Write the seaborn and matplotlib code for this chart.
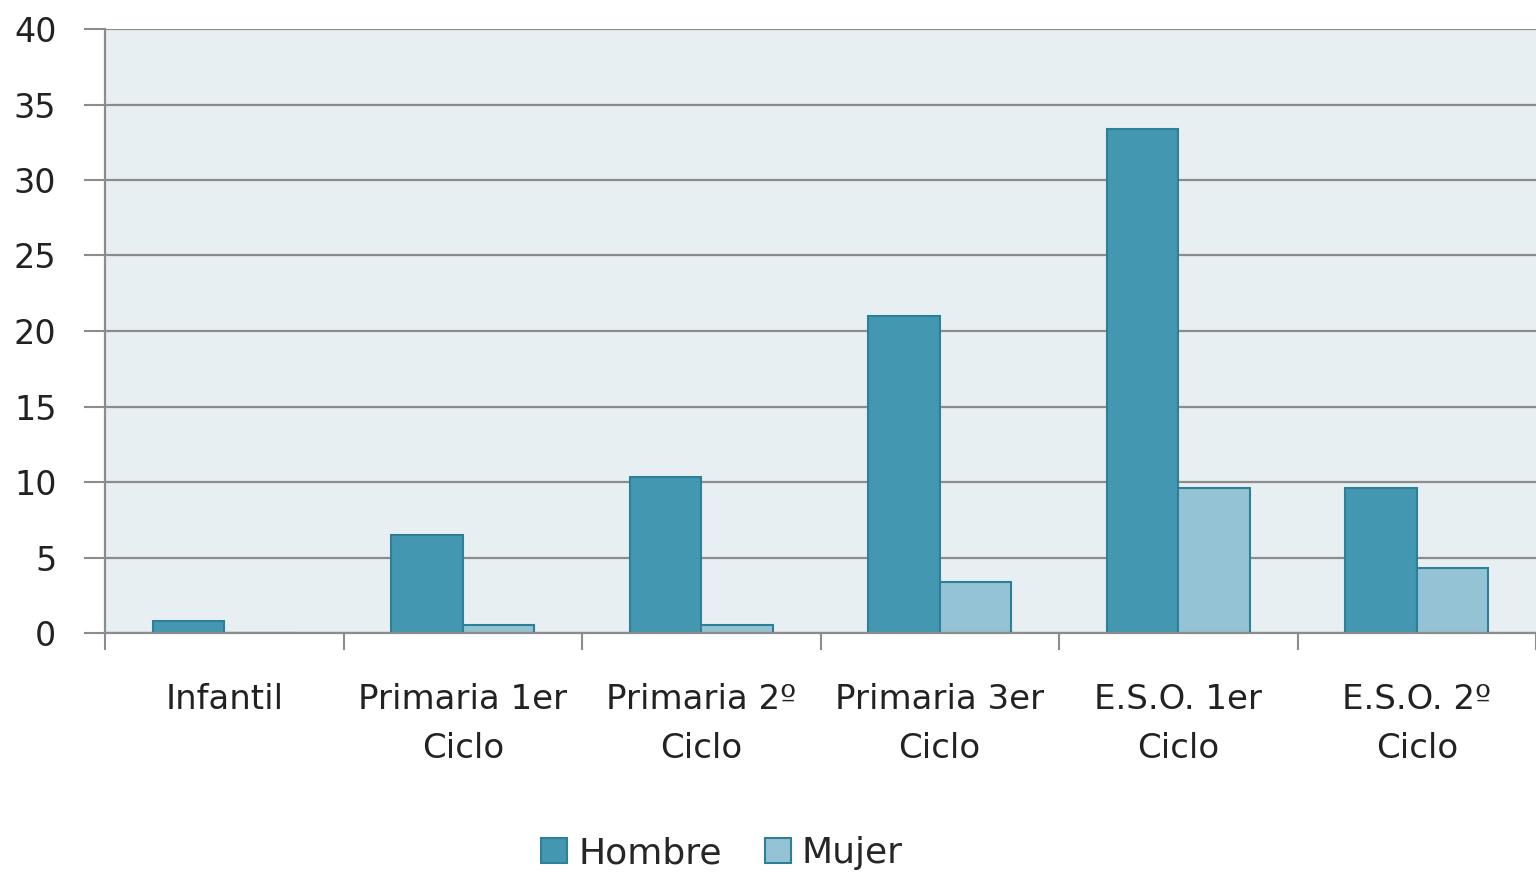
import matplotlib
matplotlib.use("Agg")
import matplotlib.pyplot as plt
import seaborn as sns
import pandas as pd
import numpy as np
from matplotlib.patches import Patch

categories = ["Infantil", "Primaria 1er\nCiclo", "Primaria 2º\nCiclo", "Primaria 3er\nCiclo",
              "E.S.O. 1er\nCiclo", "E.S.O. 2º\nCiclo"]
hombre = [0.8, 6.5, 10.3, 21.0, 33.4, 9.6]
mujer = [0.0, 0.5, 0.5, 3.4, 9.6, 4.3]
series = ["Hombre", "Mujer"]
yticks = [0, 5, 10, 15, 20, 25, 30, 35, 40]

df = pd.DataFrame({
    "cat": categories * 2,
    "val": hombre + mujer,
    "sex": ["Hombre"] * len(categories) + ["Mujer"] * len(categories),
})

sns.set_theme(style="white")
plt.rcParams['font.family'] = ['DejaVu Sans']

colors = {"Hombre": "#4397B0", "Mujer": "#94C3D5"}
edge = "#2E7F98"

fig = plt.figure(figsize=(15.36, 8.72), dpi=100)
ax = fig.add_axes([105/1536, (872-633)/872, 1 - 105/1536, (633-29)/872])
ax.set_facecolor("#E8EFF3")

sns.barplot(data=df, x="cat", y="val", hue="sex", palette=colors, order=categories,
            hue_order=series, width=0.6, ax=ax, legend=False, edgecolor=edge,
            linewidth=1.5, saturation=1)

ax.set_xlim(-0.5, len(categories) - 0.5)
ax.set_ylim(0, 40)
ax.set_yticks(yticks)
ax.set_yticklabels([str(t) for t in yticks], fontsize=24, color="#222222")
ax.yaxis.grid(True, color="#8C8C8C", linewidth=1.6)
ax.set_axisbelow(True)
ax.set_xlabel("")
ax.set_ylabel("")

ax.set_xticks(range(len(categories)))
ax.set_xticklabels(categories, fontsize=24.5, color="#222222", linespacing=1.6)
ax.set_xticks(np.arange(-0.5, len(categories), 1.0), minor=True)
ax.tick_params(axis="x", which="major", length=0, pad=36)
ax.tick_params(axis="x", which="minor", length=12, width=1.5, color="#8C8C8C", direction="out", bottom=True)
ax.tick_params(axis="y", which="major", length=15, width=1.5, color="#8C8C8C", direction="out", left=True, pad=20)

for s in ["top", "right"]:
    ax.spines[s].set_visible(False)
ax.spines["left"].set_color("#8C8C8C")
ax.spines["left"].set_linewidth(1.6)
ax.spines["bottom"].set_color("#8C8C8C")
ax.spines["bottom"].set_linewidth(1.6)

handles = [Patch(facecolor=colors[s], edgecolor=edge, linewidth=1.5, label=s) for s in series]
fig.legend(handles=handles, loc="center", bbox_to_anchor=(722/1536, 1 - 853/872), ncol=2,
           frameon=False, fontsize=26, handlelength=0.72, handleheight=0.72,
           handletextpad=0.3, columnspacing=1.2)

fig.savefig("out.png", dpi=100)
